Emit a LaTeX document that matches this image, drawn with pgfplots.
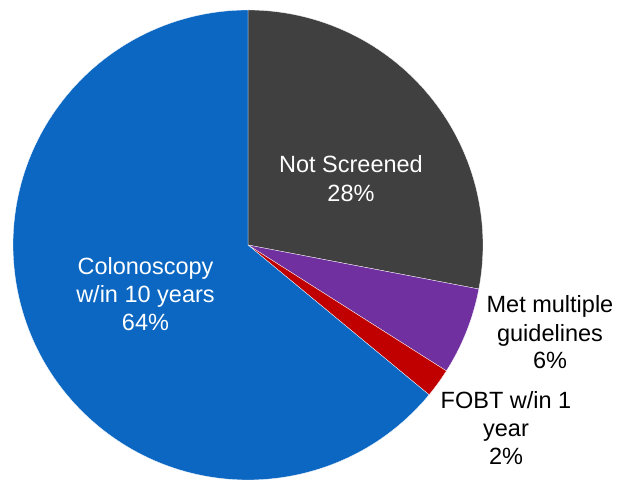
\documentclass[border=0pt]{standalone}
\usepackage{fontspec}
\setmainfont{Liberation Sans}
\usepackage{pgfplots}
\pgfplotsset{compat=1.18}
\usepackage{pgfplotstable}
\definecolor{cNot}{HTML}{404040}
\definecolor{cMet}{HTML}{7030A0}
\definecolor{cFobt}{HTML}{C00000}
\definecolor{cColo}{HTML}{0B67C2}

% shares in percent, clockwise from 12 o'clock
\pgfplotstableread{
share color
28 cNot
6 cMet
2 cFobt
64 cColo
}\piedata

\begin{document}
\begin{tikzpicture}
\begin{axis}[x=1pt, y=1pt, xmin=0, xmax=619, ymin=0, ymax=481,
  enlargelimits=false, hide axis, clip=false]
\pgfplotsextra{
  \gdef\angstart{90}
  \pgfplotstableforeachcolumnelement{share}\of\piedata\as\val{
    \pgfplotstablegetelem{\pgfplotstablerow}{color}\of\piedata
    \let\col\pgfplotsretval
    \pgfmathsetmacro\angend{\angstart-3.6*\val}
    \fill[\col, draw=white, line width=0.3pt] (axis cs:248,236) -- ++(\angstart:235pt)
      arc[start angle=\angstart, end angle=\angend, radius=235pt] -- cycle;
    \global\let\angstart\angend
  }
  \fontsize{23.5}{28}\selectfont
  \node[white, anchor=base] at (axis cs:351,308) {Not Screened};
  \node[white, anchor=base] at (axis cs:351,279) {28\%};
  \node[white, anchor=base] at (axis cs:145.5,206) {Colonoscopy};
  \node[white, anchor=base] at (axis cs:145.5,178) {w/in 10 years};
  \node[white, anchor=base] at (axis cs:145.5,150) {64\%};
  \node[black, anchor=base] at (axis cs:550,168) {Met multiple};
  \node[black, anchor=base] at (axis cs:550,139) {guidelines};
  \node[black, anchor=base] at (axis cs:550,112) {6\%};
  \node[black, anchor=base] at (axis cs:506,72) {FOBT w/in 1};
  \node[black, anchor=base] at (axis cs:506,44) {year};
  \node[black, anchor=base] at (axis cs:506,16) {2\%};
}
\end{axis}
\pgfresetboundingbox
\path (current axis.south west) rectangle (current axis.north east);
\end{tikzpicture}
\end{document}
